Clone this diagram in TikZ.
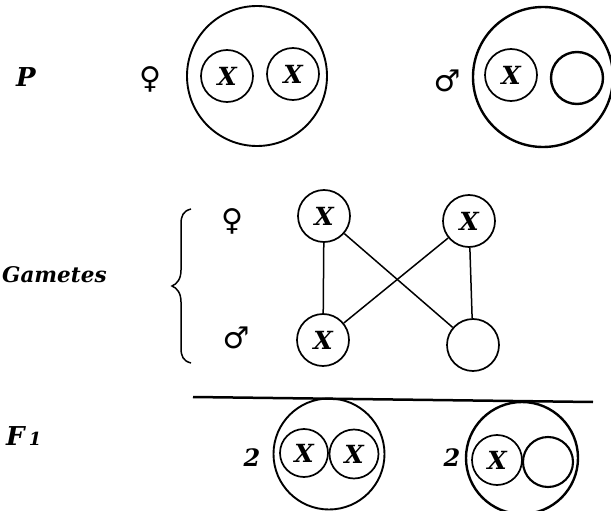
\documentclass[tikz,border=0pt]{standalone}
\usepackage{fontspec}
\newfontfamily\symfont{DejaVu Sans}
\newfontfamily\lblfont{DejaVu Serif}
\begin{document}
\begin{tikzpicture}[x=1pt,y=-1pt,
  chrom/.style={circle,draw,line width=1.7pt,minimum size=52pt,inner sep=0pt,
    font=\lblfont\fontsize{25}{25}\selectfont\bfseries\itshape},
  cell/.style={circle,draw,line width=1.9pt,minimum size=140pt,inner sep=0pt},
  lbl/.style={font=\lblfont\fontsize{26}{26}\selectfont\bfseries\itshape,inner sep=0pt},
  sym/.style={font=\symfont\fontsize{30}{30}\selectfont\bfseries,inner sep=0pt},
  link/.style={line width=1.5pt}]
\useasboundingbox (0,0) rectangle (611,511);

% P generation
\node[lbl] (P) at (26,77) {P};
\node[sym] (pf) at (150,79) {♀};
\node[cell] (c1) at (257,76) {};
\node[chrom] (c1a) at (227,76) {X};
\node[chrom] (c1b) at (293,74) {X};
\node[sym] (pm) at (447,81) {♂};
\node[cell,line width=2.4pt] (c2) at (543,77) {};
\node[chrom] (c2a) at (511,75) {X};
\node[chrom,line width=2.4pt] (c2b) at (577,78) {};

% Gametes
\node[lbl,font=\lblfont\fontsize{21.5}{21.5}\selectfont\bfseries\itshape,anchor=base west] (G) at (2,282) {Gametes};
\draw[line width=1.5pt] (191,209) .. controls (183,211) and (181,216) .. (181,224)
  -- (181,270) .. controls (181,279) and (177,284) .. (172,286)
  .. controls (177,288) and (181,293) .. (181,302)
  -- (181,348) .. controls (181,356) and (183,361) .. (191,363);
\node[sym] (gf) at (232,221) {♀};
\node[sym] (gm) at (236,338) {♂};
\node[chrom] (g1) at (324,216) {X};
\node[chrom] (g2) at (469,221) {X};
\node[chrom] (g3) at (323,340) {X};
\node[chrom] (g4) at (473,345) {};
\draw[link] (g1) -- (g3);
\draw[link] (g1) -- (g4);
\draw[link] (g2) -- (g3);
\draw[link] (g2) -- (g4);

% F1
\coordinate (la) at (193,397);
\coordinate (lb) at (593,402);
\draw[line width=2.5pt] (la) -- (lb);
\node[lbl,anchor=base west] (F) at (6,445) {F\,{\fontsize{18}{18}\selectfont 1}};
\node[lbl,font=\lblfont\fontsize{24}{24}\selectfont\bfseries\itshape] (n1) at (252,458) {2};
\node[cell,minimum size=111pt] (f1) at (329,454) {};
\node[chrom,minimum size=48pt] (f1a) at (304,453) {X};
\node[chrom,minimum size=49pt] (f1b) at (354,454) {X};
\node[lbl,font=\lblfont\fontsize{24}{24}\selectfont\bfseries\itshape] (n2) at (452,458) {2};
\node[cell,minimum size=112pt,line width=2.4pt] (f2) at (522,458) {};
\node[chrom,minimum size=50pt] (f2a) at (497,460) {X};
\node[chrom,minimum size=50pt,line width=2.1pt] (f2b) at (548,462) {};
\end{tikzpicture}
\end{document}
